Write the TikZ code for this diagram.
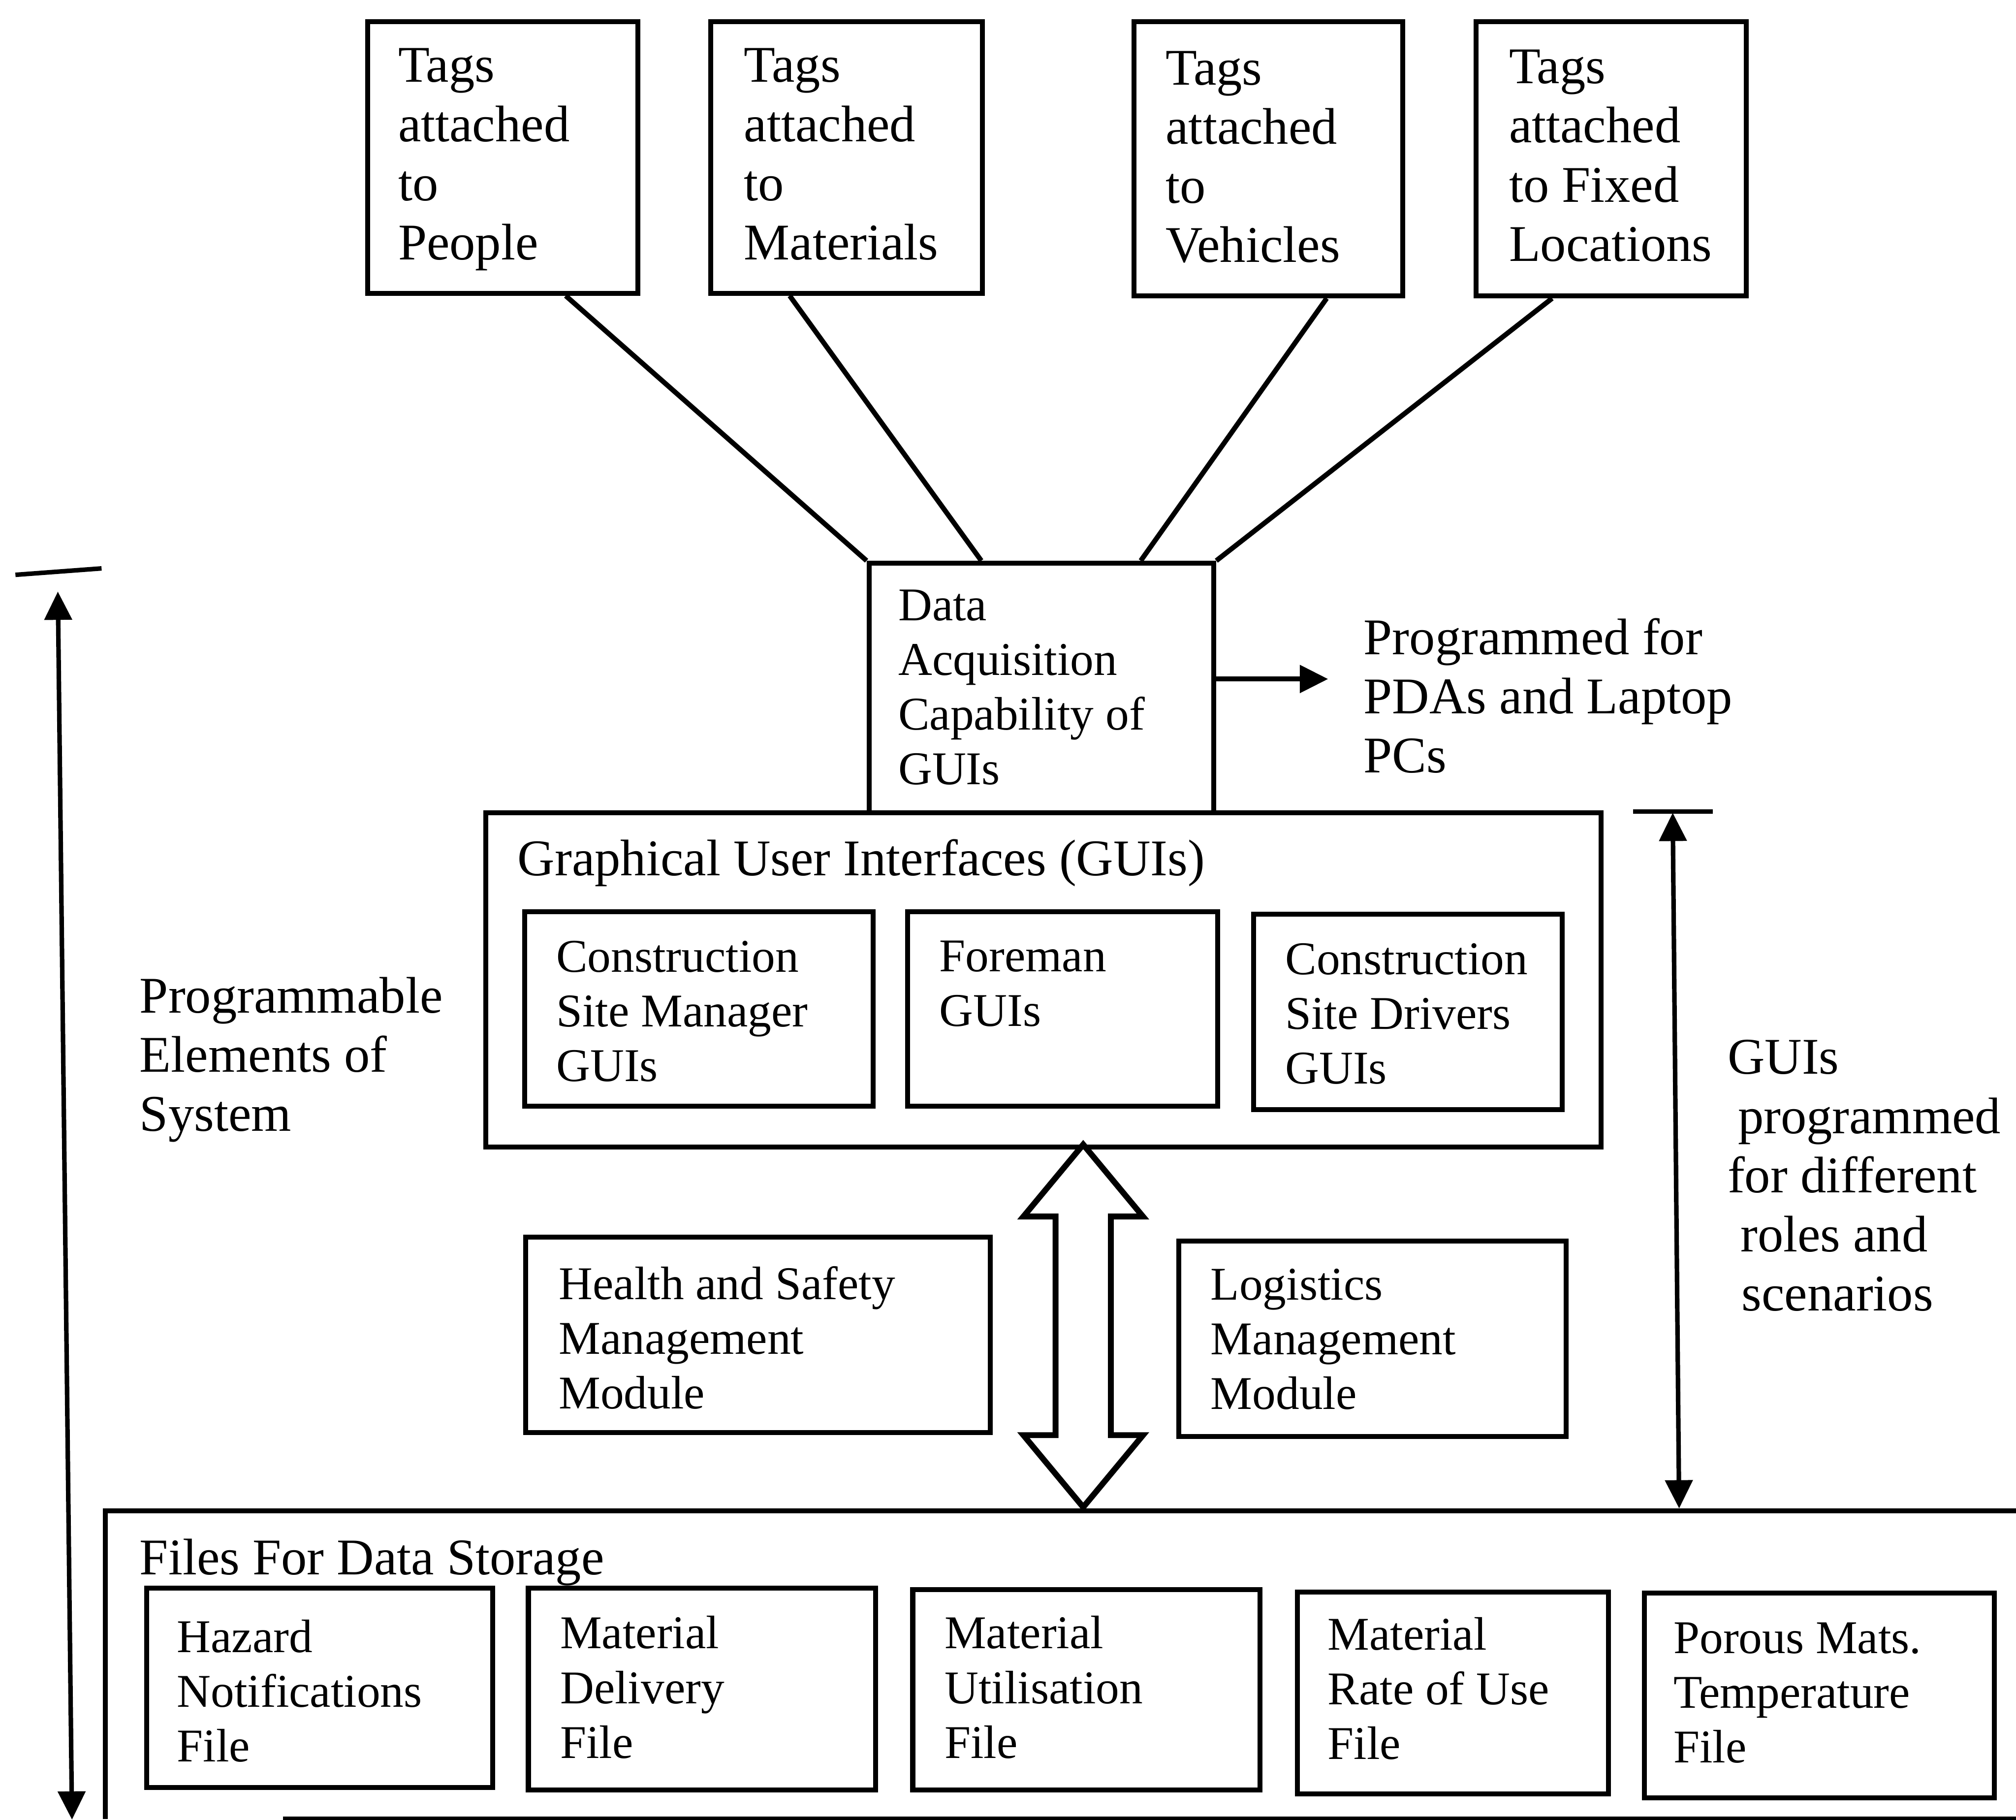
\documentclass[tikz,border=0pt]{standalone}
\usepackage{fontspec}
\setmainfont{Liberation Serif}
\usetikzlibrary{arrows.meta,calc}
\newcommand\Lfont{\fontsize{11.38pt}{13.09pt}\selectfont}
\newcommand\Sfont{\fontsize{10.38pt}{12.09pt}\selectfont}
\begin{document}
\begin{tikzpicture}[x=0.01cm,y=-0.01cm,
  box/.style={draw, line width=1.1pt, rectangle, inner sep=0pt, anchor=north west},
  ltxt/.style={anchor=north west, inner sep=0pt, align=left, font=\Lfont},
  stxt/.style={anchor=north west, inner sep=0pt, align=left, font=\Sfont},
  link/.style={line width=1.1pt},
  dimline/.style={line width=1pt},
  onehead/.style={-{Triangle[length=0.22cm,width=0.21cm]}},
  twohead/.style={{Triangle[length=0.22cm,width=0.21cm]}-{Triangle[length=0.22cm,width=0.21cm]}},
  bigarrow/.style={line width=1.3pt, line join=miter}
]
\useasboundingbox (0,0) rectangle (1568,1415);
\clip (0,0) rectangle (1568,1415);

% tag boxes
\node[box, minimum width=2.10cm, minimum height=2.11cm] (tp) at (284,15) {};
\node[box, minimum width=2.11cm, minimum height=2.11cm] (tm) at (551,15) {};
\node[box, minimum width=2.09cm, minimum height=2.13cm] (tv) at (880,15) {};
\node[box, minimum width=2.10cm, minimum height=2.13cm] (tf) at (1146,15) {};
\node[ltxt] (tpt) at (309,37) {Tags\\attached\\to\\People};
\node[ltxt] (tmt) at (578,37) {Tags\\attached\\to\\Materials};
\node[ltxt] (tvt) at (906,39) {Tags\\attached\\to\\Vehicles};
\node[ltxt] (tft) at (1173,38) {Tags\\attached\\to Fixed\\Locations};

% data acquisition
\node[box, minimum width=2.68cm, minimum height=1.94cm] (da) at (674,436) {};
\node[stxt] (dat) at (698,458) {Data\\Acquisition\\Capability of\\GUIs};

\draw[link] ($(tp.south west)!0.729!(tp.south east)$) -- (da.north west);
\draw[link] ($(tm.south west)!0.294!(tm.south east)$) -- ($(da.north west)!0.328!(da.north east)$);
\draw[link] ($(tv.south west)!0.713!(tv.south east)$) -- ($(da.north west)!0.784!(da.north east)$);
\draw[link] ($(tf.south west)!0.286!(tf.south east)$) -- (da.north east);

% output to portable devices
\coordinate (pdaend) at (1033,528);
\draw[link, onehead] (da.east |- pdaend) -- (pdaend);
\node[ltxt] (pda) at (1060,480) {Programmed for\\PDAs and Laptop\\PCs};

% graphical user interfaces
\node[box, minimum width=8.67cm, minimum height=2.60cm] (gui) at (376,630) {};
\node[ltxt] (guit) at (402,652) {Graphical User Interfaces (GUIs)};
\node[box, minimum width=2.71cm, minimum height=1.51cm] (csm) at (406,707) {};
\node[box, minimum width=2.41cm, minimum height=1.51cm] (fm) at (704,707) {};
\node[box, minimum width=2.40cm, minimum height=1.52cm] (csd) at (973,709) {};
\node[stxt] (csmt) at (432,731) {Construction\\Site Manager\\GUIs};
\node[stxt] (fmt) at (730,731) {Foreman\\GUIs};
\node[stxt] (csdt) at (999,733) {Construction\\Site Drivers\\GUIs};

% management modules
\node[box, minimum width=3.61cm, minimum height=1.52cm] (hs) at (407,960) {};
\node[box, minimum width=3.01cm, minimum height=1.52cm] (lg) at (915,963) {};
\node[stxt] (hst) at (434,984) {Health and Safety\\Management\\Module};
\node[stxt] (lgt) at (941,986) {Logistics\\Management\\Module};

% files for data storage
\node[anchor=north west, inner sep=0pt, minimum width=15.3cm, minimum height=2.38cm] (files) at (82,1175) {};
\draw[link] ([xshift=1.38cm]files.south west) -- (files.south east) -- (files.north east)
  -- (files.north west) -- (files.south west);
\node[ltxt] (filest) at (108,1196) {Files For Data Storage};
\node[box, minimum width=2.69cm, minimum height=1.55cm] (hz) at (112,1233) {};
\node[box, minimum width=2.70cm, minimum height=1.57cm] (md) at (409,1233) {};
\node[box, minimum width=2.70cm, minimum height=1.56cm] (mu) at (708,1234) {};
\node[box, minimum width=2.42cm, minimum height=1.57cm] (mr) at (1007,1236) {};
\node[box, minimum width=2.72cm, minimum height=1.59cm] (pm) at (1277,1237) {};
\node[stxt] (hzt) at (137,1259) {Hazard\\Notifications\\File};
\node[stxt] (mdt) at (435,1256) {Material\\Delivery\\File};
\node[stxt] (mut) at (734,1256) {Material\\Utilisation\\File};
\node[stxt] (mrt) at (1032,1257) {Material\\Rate of Use\\File};
\node[stxt] (pmt) at (1301,1261) {Porous Mats.\\Temperature\\File};

% two-way exchange between the interfaces and the stored files
\coordinate (dtop) at (842.5,890);
\coordinate (dbot) at (842.5,1172);
\draw[bigarrow] (dtop) -- ++(46.5,56) -- ++(-25,0) -- ++(0,170) -- ++(25,0) -- (dbot)
  -- ++(-46.5,-56) -- ++(25,0) -- ++(0,-170) -- ++(-25,0) -- cycle;

% extent of the GUI layer
\coordinate (rtop) at (1301,632);
\coordinate (rbot) at (1306,1173);
\draw[dimline] (1270,631) -- (1332,631);
\draw[dimline, twohead] (rbot) -- (rtop);
\node[ltxt] (rtxt) at (1343,808) {GUIs\\\hspace*{0.08cm}programmed\\for different\\\hspace*{0.10cm}roles and\\\hspace*{0.11cm}scenarios};

% extent of the programmable system
\coordinate (ltop) at (45,460);
\coordinate (lbot) at (56,1415);
\draw[dimline] (12,447) -- (79,442);
\draw[dimline, twohead] (lbot) -- (ltop);
\node[ltxt] (ltxt) at (108,759) {Programmable\\Elements of\\System};
\end{tikzpicture}
\end{document}
